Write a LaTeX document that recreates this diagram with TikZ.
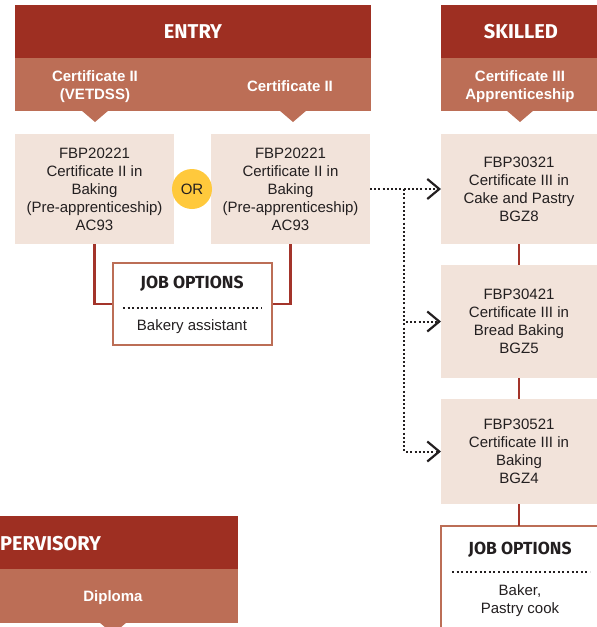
\documentclass[tikz,border=0pt]{standalone}
\usepackage{fontspec}
\setmainfont{Liberation Sans}
\newfontfamily\headfont{Fira Sans}
\usetikzlibrary{arrows.meta}
\definecolor{darkred}{HTML}{9E2F22}
\definecolor{midred}{HTML}{BC6E56}
\definecolor{boxfill}{HTML}{F2E3DA}
\definecolor{orgold}{HTML}{FFC93C}
\definecolor{linkred}{HTML}{A3342A}
\definecolor{inkgrey}{HTML}{231F20}
\tikzset{
  band/.style={inner sep=0pt, outer sep=0pt},
  headtxt/.style={text=white, font=\headfont\bfseries\fontsize{20}{24}\selectfont},
  subtxt/.style={text=white, align=center, font=\bfseries\fontsize{15}{18}\selectfont},
  course/.style={fill=boxfill, inner sep=0pt, outer sep=0pt, align=center, text=inkgrey, font=\fontsize{15}{18}\selectfont},
  jobbox/.style={draw=midred, line width=2pt, fill=white, inner sep=0pt, outer sep=0pt},
  jobhead/.style={text=inkgrey, font=\headfont\bfseries\fontsize{17.5}{21}\selectfont},
  jobtxt/.style={text=inkgrey, align=center, font=\fontsize{15}{18}\selectfont},
  redlink/.style={draw=linkred, line width=2.2pt},
  dotlink/.style={inkgrey, line width=2pt, dash pattern=on 2pt off 2.2pt, -{Straight Barb[length=12pt,width=20pt,line width=2.2pt]}},
  dotsep/.style={inkgrey, line width=2pt, dash pattern=on 2pt off 2.6pt},
}
\begin{document}
\begin{tikzpicture}[x=1pt,y=-1pt]
\useasboundingbox (0,0) rectangle (597,627);
\clip (0,0) rectangle (597,627);
% entry column
\node[band, fill=darkred, minimum width=356pt, minimum height=53pt, headtxt] (entry) at (193,31.5) {ENTRY};
\node[band, fill=midred, minimum width=356pt, minimum height=53pt] (entrysub) at (193,84.5) {};
\node[subtxt] (vetdss) at (95,87) {Certificate II\\(VETDSS)};
\node[subtxt] (certtwo) at (290,86) {Certificate II};
\fill[midred] (81,110) -- (109,110) -- (95,122) -- cycle;
\fill[midred] (279,110) -- (307,110) -- (293,122) -- cycle;
\node[course, minimum width=159pt, minimum height=110pt] (bakeA) at (94.5,189) {FBP20221\\Certificate II in\\Baking\\(Pre-apprenticeship)\\AC93};
\node[course, minimum width=159pt, minimum height=110pt] (bakeB) at (290.5,189) {FBP20221\\Certificate II in\\Baking\\(Pre-apprenticeship)\\AC93};
\node[circle, fill=orgold, minimum size=40pt, inner sep=0pt, text=inkgrey, font=\fontsize{15}{18}\selectfont] (or) at (192,189) {OR};
% job options, entry
\draw[redlink] (bakeA.south) |- (192,304);
\draw[redlink] (bakeB.south) |- (192,304);
\node[jobbox, minimum width=159pt, minimum height=82pt] (jobA) at (192.5,304) {};
\node[jobhead] (jobAhead) at (192,284) {JOB OPTIONS};
\draw[dotsep] (123,308) -- (262,308);
\node[jobtxt] (jobAtxt) at (192,327) {Bakery assistant};
% skilled column
\node[band, fill=darkred, minimum width=160pt, minimum height=53pt, headtxt] (skilled) at (521,31.5) {SKILLED};
\node[band, fill=midred, minimum width=160pt, minimum height=53pt] (skilledsub) at (521,84.5) {};
\node[subtxt] (apprent) at (520,87) {Certificate III\\Apprenticeship};
\fill[midred] (506,110) -- (534,110) -- (520,122) -- cycle;
\node[course, minimum width=156pt, minimum height=110pt] (cake) at (519,189) {FBP30321\\Certificate III in\\Cake and Pastry\\BGZ8};
\node[course, minimum width=156pt, minimum height=113pt] (bread) at (519,321.5) {FBP30421\\Certificate III in\\Bread Baking\\BGZ5};
\node[course, minimum width=156pt, minimum height=105pt] (bakeC) at (519,451.5) {FBP30521\\Certificate III in\\Baking\\BGZ4};
\draw[redlink] (cake.south) -- (bread.north);
\draw[redlink] (bread.south) -- (bakeC.north);
% dotted pathways
\coordinate (split) at (404,189);
\draw[dotlink] (bakeB.east) -- (cake.west);
\draw[dotlink] (split) |- (bread.west);
\draw[dotlink] (split) |- (bakeC.west);
% job options, skilled
\node[jobbox, minimum width=164pt, minimum height=130pt] (jobB) at (523,591) {};
\draw[redlink] (bakeC.south) -- (bakeC.south |- jobB.north);
\node[jobhead] (jobBhead) at (520,550) {JOB OPTIONS};
\draw[dotsep] (452,572) -- (590,572);
\node[jobtxt] (jobBtxt) at (520,600.5) {Baker,\\Pastry cook};
% supervisory column
\node[band, fill=darkred, minimum width=250pt, minimum height=53pt] (super) at (113,542.5) {};
\node[headtxt, anchor=west, inner sep=0pt] (supertxt) at (0,544) {PERVISORY};
\node[band, fill=midred, minimum width=250pt, minimum height=54pt] (supersub) at (113,596) {};
\node[subtxt] (diploma) at (113,597.5) {Diploma};
\fill[midred] (99,622) -- (127,622) -- (113,634) -- cycle;
\end{tikzpicture}
\end{document}
